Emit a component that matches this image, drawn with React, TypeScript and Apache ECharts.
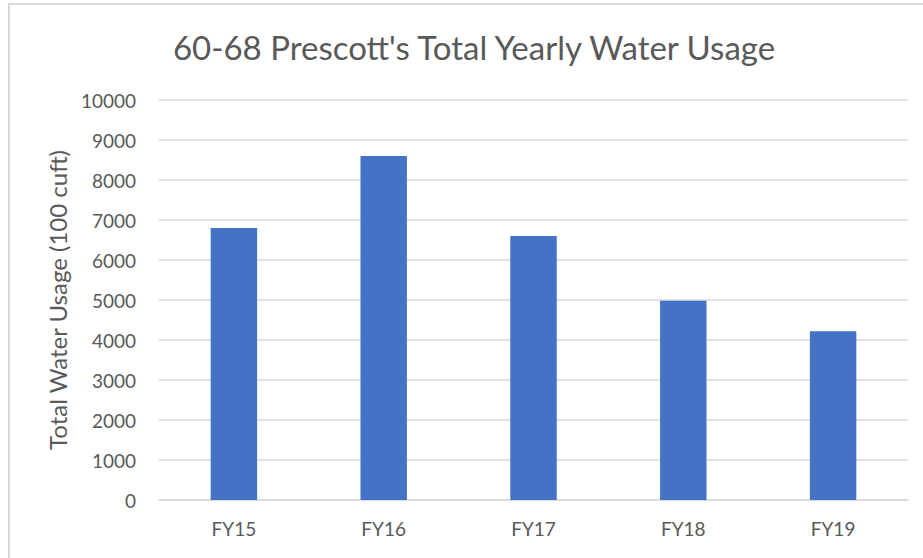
import React, { useEffect, useRef } from "react";
import * as echarts from "echarts";

const categories = ["FY15", "FY16", "FY17", "FY18", "FY19"];
const usage = [6800, 8600, 6600, 4980, 4220];
const titleText = "60-68 Prescott's Total Yearly Water Usage";
const yAxisName = "Total Water Usage (100 cuft)";

export default function App() {
  const ref = useRef<HTMLDivElement>(null);
  useEffect(() => {
    document.body.style.margin = "0";
    const chart = echarts.init(ref.current!, null, { renderer: "svg" });
    chart.setOption({
      animation: false,
      backgroundColor: "#ffffff",
      textStyle: { fontFamily: "Lato" },
      title: {
        text: titleText,
        left: 469,
        top: 25,
        textAlign: "center",
        textStyle: { fontFamily: "Lato", fontSize: 33, fontWeight: "normal", color: "#595959" },
      },
      graphic: [
        {
          type: "rect",
          shape: { x: 9, y: 4, width: 1000, height: 1000 },
          style: { fill: "none", stroke: "#d9d9d9", lineWidth: 2 },
          silent: true,
        },
      ],
      grid: { left: 159, right: 15, top: 100, bottom: 58 },
      xAxis: {
        type: "category",
        data: categories,
        axisLine: { lineStyle: { color: "#d9d9d9", width: 1.5 } },
        axisTick: { show: false },
        axisLabel: { color: "#595959", fontSize: 19, margin: 19, fontFamily: "Lato" },
      },
      yAxis: {
        type: "value",
        min: 0,
        max: 10000,
        interval: 1000,
        name: yAxisName,
        nameLocation: "middle",
        nameGap: 90,
        nameTextStyle: { color: "#595959", fontSize: 24, fontFamily: "Lato" },
        axisLine: { show: false },
        axisTick: { show: false },
        axisLabel: {
          color: "#595959",
          fontSize: 19,
          margin: 23,
          fontFamily: "Lato",
          formatter: (v: number) => String(v),
        },
        splitLine: { lineStyle: { color: "#d9d9d9", width: 1.5 } },
      },
      series: [
        {
          type: "bar",
          data: usage,
          barWidth: "31%",
          itemStyle: { color: "#4472C4" },
        },
      ],
    });
    return () => chart.dispose();
  }, []);
  return <div ref={ref} style={{ width: 923, height: 558 }} />;
}
